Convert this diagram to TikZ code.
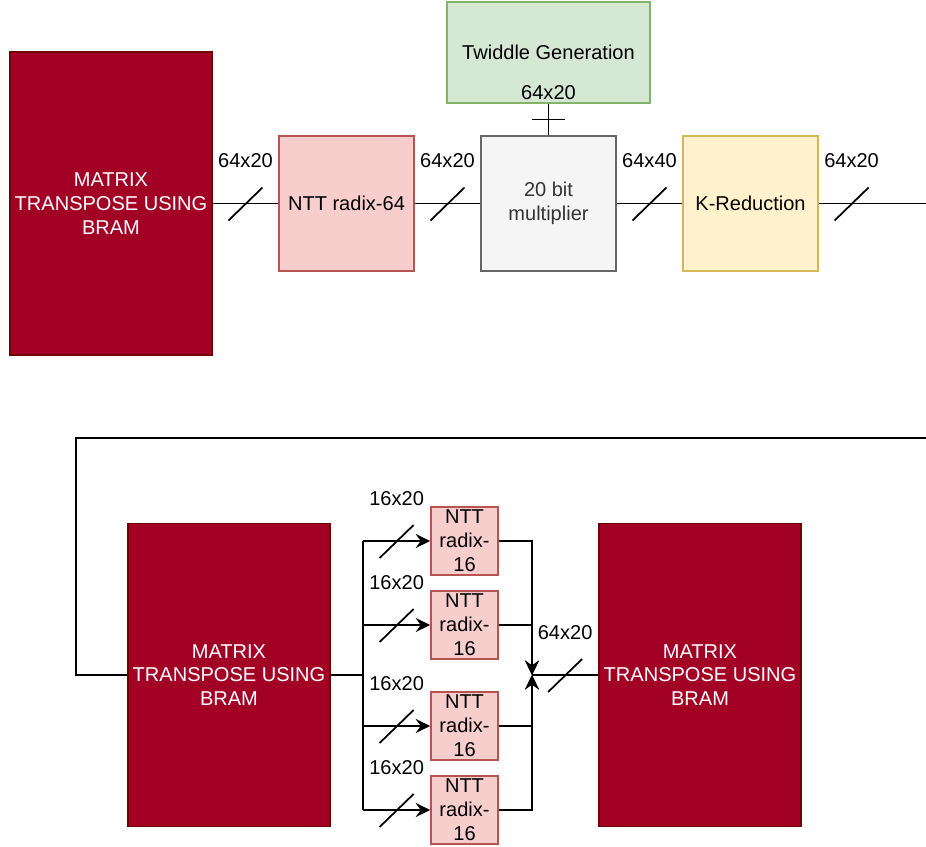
\documentclass[tikz,border=0pt]{standalone}
\usepackage{fontspec}
\setmainfont{Liberation Sans}
\usetikzlibrary{positioning,arrows.meta,calc}
\definecolor{BramRed}{RGB}{162,0,37}
\definecolor{BramEdge}{RGB}{111,0,0}
\definecolor{NttFill}{RGB}{248,206,204}
\definecolor{NttEdge}{RGB}{184,84,80}
\definecolor{MulFill}{RGB}{245,245,245}
\definecolor{MulEdge}{RGB}{102,102,102}
\definecolor{MulText}{RGB}{51,51,51}
\definecolor{RedFill}{RGB}{255,242,204}
\definecolor{RedEdge}{RGB}{214,182,86}
\definecolor{TwFill}{RGB}{213,232,212}
\definecolor{TwEdge}{RGB}{130,179,102}
\tikzset{
  wire/.style={line width=1pt,draw=black},
  wirearrow/.style={wire,-{Stealth[length=2.9mm,width=2.8mm,inset=1mm]}},
  busmark/.style={line width=1pt},
  blk/.style={line width=0.9pt,align=center,inner sep=0pt,
    font=\fontsize{11.4}{13.6}\selectfont},
  bram/.style={blk,draw=BramEdge,fill=BramRed,text=white,
    minimum width=4.04cm,minimum height=6.06cm},
  nttbox/.style={blk,draw=NttEdge,fill=NttFill,
    minimum width=2.7cm,minimum height=2.7cm},
  nttsmall/.style={blk,draw=NttEdge,fill=NttFill,
    minimum width=1.34cm,minimum height=1.36cm},
  mulbox/.style={blk,draw=MulEdge,fill=MulFill,text=MulText,
    minimum width=2.7cm,minimum height=2.7cm},
  kredbox/.style={blk,draw=RedEdge,fill=RedFill,
    minimum width=2.7cm,minimum height=2.7cm},
  twbox/.style={blk,draw=TwEdge,fill=TwFill,
    minimum width=4.06cm,minimum height=2.02cm},
  lbl/.style={font=\fontsize{11.4}{13.6}\selectfont,inner sep=0pt}
}

\begin{document}
\begin{tikzpicture}[x=0.02cm,y=-0.02cm]
  \useasboundingbox (0,0) rectangle (926,846);
  % top row
  \node[bram] (bramA) at (111,203.5) {MATRIX\\TRANSPOSE USING\\BRAM};
  \node[nttbox] (ntt64) at (346.5,203.5) {NTT radix-64};
  \node[mulbox] (mult) at (548.5,203.5) {20 bit\\multiplier};
  \node[kredbox] (kred) at (750.5,203.5) {K-Reduction};
  \node[twbox] (twid) at (548.5,52.5) {Twiddle Generation};
  \coordinate (outA) at (926,203.5);
  \draw[wire] (bramA) -- coordinate[pos=.5] (s1) (ntt64);
  \draw[wire] (ntt64) -- coordinate[pos=.5] (s2) (mult);
  \draw[wire] (mult) -- coordinate[pos=.5] (s3) (kred);
  \draw[wire] (kred) -- coordinate[pos=.306] (s4) (outA);
  \draw[wire] (twid) -- coordinate[pos=.5] (tk) (mult);
  \draw[busmark] ([xshift=-0.33cm]tk) -- ([xshift=0.33cm]tk);
  \node[lbl] at ([yshift=0.22cm]twid.south) {64x20};
  \node[lbl] at ([yshift=0.86cm]s1) {64x20};
  \node[lbl] at ([yshift=0.86cm]s2) {64x20};
  \node[lbl] at ([yshift=0.86cm]s3) {64x40};
  \node[lbl] at ([yshift=0.86cm]s4) {64x20};

  % bottom row
  \node[bram] (bramB) at (229,675) {MATRIX\\TRANSPOSE USING\\BRAM};
  \node[bram] (bramC) at (700,675) {MATRIX\\TRANSPOSE USING\\BRAM};
  \node[nttsmall] (n1) at (464.5,541) {NTT\\radix-\\16};
  \node[nttsmall] (n2) at (464.5,625) {NTT\\radix-\\16};
  \node[nttsmall] (n3) at (464.5,726) {NTT\\radix-\\16};
  \node[nttsmall] (n4) at (464.5,810) {NTT\\radix-\\16};
  \coordinate (fbin) at (926,438);
  \coordinate (bus) at (363,675);
  \coordinate (join) at (532,675);
  \draw[wire] (fbin) -| ([xshift=-1.02cm]bramB.west) -- (bramB.west);
  \draw[wire] (bramB) -- (bus);
  \draw[wire] (bus |- n1) -- (bus |- n4);
  \foreach \n/\t in {n1/t1,n2/t2,n3/t3,n4/t4}{
    \draw[wirearrow] (bus |- \n) -- coordinate[pos=.5] (\t) (\n);
    \node[lbl] at ([yshift=0.85cm]\t) {16x20};
  }
  \draw[wirearrow] (n1) -| (join);
  \draw[wirearrow] (n2) -| (join);
  \draw[wirearrow] (n3) -| (join);
  \draw[wirearrow] (n4) -| (join);
  \draw[wire] (join) -- coordinate[pos=.5] (t5) (bramC);
  \node[lbl] at ([yshift=0.84cm]t5) {64x20};

  % bus slashes
  \foreach \c in {s1,s2,s3,s4,t1,t2,t3,t4,t5}
    \draw[busmark] (\c) ++(-17,17) -- ++(34,-33);
\end{tikzpicture}
\end{document}
